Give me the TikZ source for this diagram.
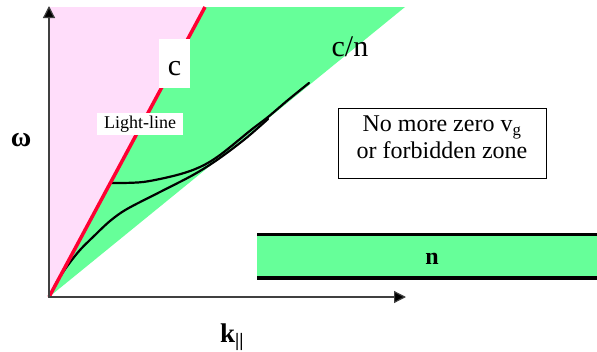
\documentclass[tikz,border=0pt]{standalone}
\usepackage{fontspec}
\setmainfont{Liberation Serif}
\usetikzlibrary{arrows.meta}
\definecolor{pinkfill}{HTML}{FFDDFA}
\definecolor{greenfill}{HTML}{66FF99}
\definecolor{redline}{HTML}{FF0033}
\definecolor{axisgray}{HTML}{404040}
\tikzset{
  axisline/.style={draw=axisgray, line width=1.2pt, -{Triangle[length=12pt,width=12pt,fill=black]}},
  curveline/.style={draw=black, line width=2.2pt, line cap=round},
  whitebox/.style={fill=white, inner sep=0pt},
  fs/.style={font=\fontsize{#1}{#1}\selectfont}
}
\begin{document}
\begin{tikzpicture}[x=1pt,y=-1pt]
\useasboundingbox (0,0) rectangle (597,351);
\coordinate (O) at (49,297);
\coordinate (Ytop) at (49,6);
\coordinate (Xend) at (406,297);
\coordinate (Ctop) at (205,7);
\coordinate (Ycorner) at (49,7);
\coordinate (CNtop) at (405,7);
% regions
\fill[pinkfill] (O) -- (Ycorner) -- (Ctop) -- cycle;
\fill[greenfill] (O) -- (Ctop) -- (CNtop) -- cycle;
% dispersion curves
\draw[curveline] plot[smooth, tension=0.55] coordinates {(112,183) (143,182) (177,175) (200,167) (220,155) (251,130) (268,117) (288,100) (309,83)};
\draw[curveline] plot[smooth, tension=0.55] coordinates {(49,297) (58,280) (68,265) (80,250) (93,237) (110,221) (127,209) (160,192) (193,175) (217,160) (245,139) (268,119)};
% light line
\draw[redline, line width=3.5pt] (O) -- (Ctop);
% axes
\draw[axisline] (O) -- (Ytop);
\draw[axisline] (O) -- (Xend);
% labels
\node[whitebox, minimum width=31pt, minimum height=49pt] (cbox) at (174.5,63.5) {};
\node[fs=30] (clabel) at (174.5,69) {c};
\node[whitebox, minimum width=86pt, minimum height=22pt, fs=18] (light) at (140,124) {Light-line};
\node[fs=30] (cn) at (350,47) {c/n};
\node[fs=28] (omega) at (21,140) {\textbf{ω}};
\node[fs=27, anchor=base west, inner sep=0pt] (kpar) at (220,342) {\textbf{k}\textsubscript{\textbf{||}}};
% info box
\node[draw=black, line width=1pt, minimum width=208pt, minimum height=70pt, inner sep=0pt] (infobox) at (442,143) {};
\node[align=center, font=\fontsize{24}{27}\selectfont, inner sep=0pt] (infotext) at (442,137.5) {No more zero v\textsubscript{g}\\or forbidden zone};
% n bar
\fill[greenfill] (257,234.5) rectangle (597,278);
\draw[line width=3.5pt] (257,234.5) -- (597,234.5);
\draw[line width=3.5pt] (257,278) -- (597,278);
\node[fs=24] (nlabel) at (432,259) {\textbf{n}};
\end{tikzpicture}
\end{document}
